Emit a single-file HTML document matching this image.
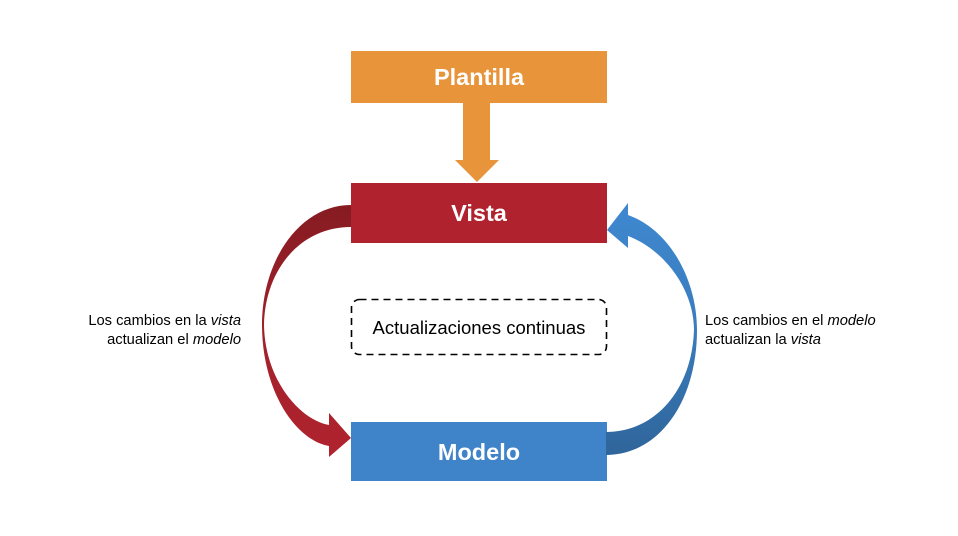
<!DOCTYPE html>
<html><head><meta charset="utf-8"><style>
body{margin:0;background:#fff;}
svg{display:block;font-family:"Liberation Sans",sans-serif;}
</style></head><body>
<svg width="958" height="536" viewBox="0 0 958 536">
<defs>
<linearGradient id="gr" x1="0" y1="0" x2="0" y2="1"><stop offset="0" stop-color="#861b22"/><stop offset="0.5" stop-color="#a0212b"/><stop offset="1" stop-color="#b0232e"/></linearGradient>
<linearGradient id="gb" x1="0" y1="0" x2="0" y2="1"><stop offset="0" stop-color="#3f88d0"/><stop offset="0.5" stop-color="#3a7cbd"/><stop offset="1" stop-color="#2f659a"/></linearGradient>
</defs>
<rect x="351" y="51" width="256" height="52" fill="#e8943a"/>
<text x="479" y="85" text-anchor="middle" fill="#fff" font-size="23.5" font-weight="bold">Plantilla</text>
<path d="M463,103 L490,103 L490,160 L499,160 L477,182 L455,160 L463,160 Z" fill="#e8943a"/>
<rect x="351" y="183" width="256" height="60" fill="#b0232e"/>
<text x="479" y="221" text-anchor="middle" fill="#fff" font-size="23.5" font-weight="bold">Vista</text>
<rect x="351" y="422" width="256" height="59" fill="#3f84c8"/>
<text x="479" y="460" text-anchor="middle" fill="#fff" font-size="23.5" font-weight="bold">Modelo</text>
<rect x="351.5" y="299.5" width="255" height="55" rx="8" fill="none" stroke="#000" stroke-width="1.6" stroke-dasharray="7,5"/>
<text x="479" y="334" text-anchor="middle" fill="#000" font-size="18.5">Actualizaciones continuas</text>
<path d="M351,205 C300,205 262,260 262,325 C262,390 295,440 329,446 L329,457 L351,438 L329,413 L329,425 C300,420 265,380 264,325 C265,270 300,227 351,227 Z" fill="url(#gr)"/>
<path d="M606,455 C660,455 697,400 697,330 C697,280 670,230 628,215 L628,203 L607,230 L628,248 L628,236 C665,250 694,290 694,330 C692,390 655,432 606,432 Z" fill="url(#gb)"/>
<text x="241" y="325" text-anchor="end" font-size="14.7">Los cambios en la <tspan font-style="italic">vista</tspan></text>
<text x="241" y="344" text-anchor="end" font-size="14.7">actualizan el <tspan font-style="italic">modelo</tspan></text>
<text x="705" y="325" font-size="14.7">Los cambios en el <tspan font-style="italic">modelo</tspan></text>
<text x="705" y="344" font-size="14.7">actualizan la <tspan font-style="italic">vista</tspan></text>
</svg>
</body></html>
